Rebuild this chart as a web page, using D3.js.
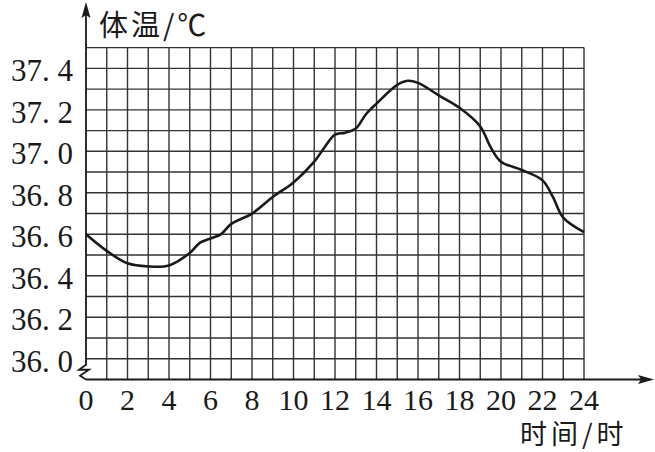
<!DOCTYPE html>
<html><head><meta charset="utf-8">
<script src="https://cdn.jsdelivr.net/npm/d3@7"></script>
<style>
html,body{margin:0;padding:0;background:#fff;}
svg{display:block;}
text{white-space:pre;}
</style></head>
<body>
<svg id="c" width="655" height="452"></svg>
<script>
// ---- data ----
const hours = [0,1,2,3,4,5,5.5,6,6.5,7,8,9,10,11,11.5,12,12.5,13,13.5,14,15,15.5,16,17,18,19,19.5,20,21,22,22.5,23,24];
const temps = [36.60,36.52,36.46,36.445,36.45,36.51,36.56,36.58,36.60,36.65,36.70,36.78,36.85,36.95,37.02,37.08,37.09,37.11,37.18,37.23,37.32,37.34,37.33,37.27,37.21,37.12,37.02,36.95,36.91,36.86,36.78,36.68,36.61];
const xTicks = [0,2,4,6,8,10,12,14,16,18,20,22,24];
const yTicks = [36.0,36.2,36.4,36.6,36.8,37.0,37.2,37.4];
const yLabels = ["36. 0","36. 2","36. 4","36. 6","36. 8","37. 0","37. 2","37. 4"];
const yTitle = "体温/℃";
const xTitle = "时间/时";

const svg = d3.select("#c");
const x = d3.scaleLinear().domain([0,24]).range([86,584]);
const y = d3.scaleLinear().domain([35.9,37.5]).range([379.5,47.6]);
const ink = "#1a1a1a";

// grid
const g = svg.append("g").attr("stroke", "#333").attr("stroke-width", 1.4).attr("fill","none");
d3.range(1,25).forEach(h=>{
  g.append("line").attr("x1",x(h)).attr("x2",x(h)).attr("y1",y(37.5)).attr("y2",y(35.9));
});
d3.range(0,16).forEach(i=>{
  const t = 36.0 + i*0.1;
  g.append("line").attr("x1",x(0)).attr("x2",x(24)).attr("y1",y(t)).attr("y2",y(t));
});

// axes
const a = svg.append("g").attr("stroke", ink).attr("stroke-width", 1.8).attr("fill","none");
const yb = y(36.0);
a.append("path").attr("d", `M${x(0)},14 L${x(0)},${yb+6} L${x(0)-7},${yb+11} L${x(0)+3},${yb+11} L${x(0)-6},${yb+17} L${x(0)},${y(35.9)}`);
a.append("line").attr("x1",x(0)).attr("x2",644).attr("y1",y(35.9)).attr("y2",y(35.9));
svg.append("path").attr("fill",ink).attr("d",`M${x(0)},2 L${x(0)-4.5},18 L${x(0)},15 L${x(0)+4.5},18 Z`);
svg.append("path").attr("fill",ink).attr("d",`M654,${y(35.9)} L638,${y(35.9)-4.5} L641,${y(35.9)} L638,${y(35.9)+4.5} Z`);

// curve
const line = d3.line().x((d,i)=>x(hours[i])).y((d)=>y(d)).curve(d3.curveCatmullRom.alpha(0.5));
svg.append("path").datum(temps).attr("d", line).attr("fill","none").attr("stroke", ink).attr("stroke-width", 2.6).attr("stroke-linejoin","round");

// tick labels
const serif = "'Liberation Serif','DejaVu Serif',serif";
svg.append("g").selectAll("text").data(xTicks).join("text")
  .attr("x", d=>x(d)).attr("y", 410).attr("text-anchor","middle")
  .attr("font-family", serif).attr("font-size", 30).attr("fill", ink).text(d=>d);
svg.append("g").selectAll("text").data(yTicks).join("text")
  .attr("x", 73).attr("y", d=>y(d)+13).attr("text-anchor","end")
  .attr("font-family", serif).attr("font-size", 31).attr("fill", ink).text((d,i)=>yLabels[i]);

// titles
svg.append("text").attr("x", 99).attr("y", 36).attr("font-family","'Noto Sans CJK SC',sans-serif")
  .attr("font-size", 29).attr("letter-spacing", 3).attr("fill", ink).text(yTitle);
svg.append("text").attr("x", 520).attr("y", 444).attr("font-family","'Noto Sans CJK SC',sans-serif")
  .attr("font-size", 27).attr("letter-spacing", 4).attr("fill", ink).text(xTitle);
</script>
</body></html>
